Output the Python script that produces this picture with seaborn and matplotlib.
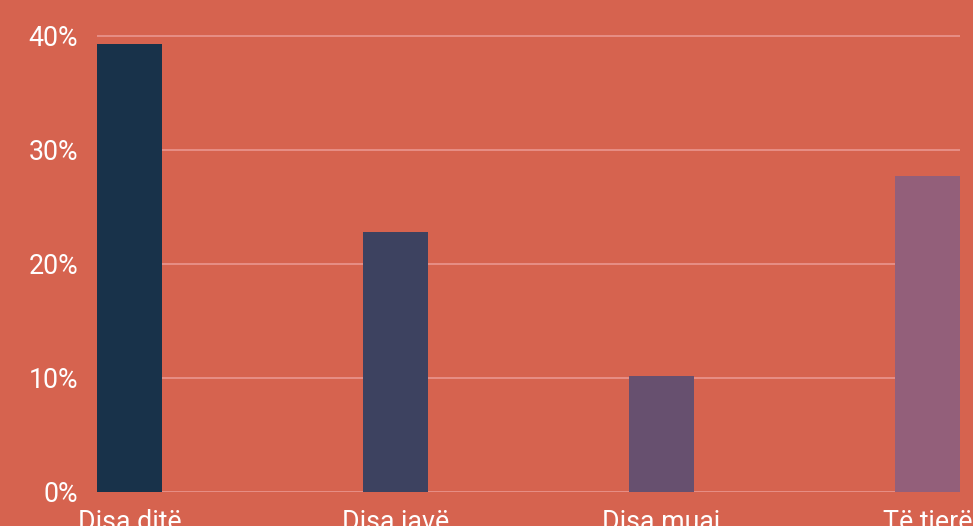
import pandas as pd
import matplotlib.pyplot as plt
import seaborn as sns

# Të dhënat
kategorite = ['Disa ditë', 'Disa javë', 'Disa muaj', 'Të tjerë']
perqindjet = [39.3, 22.8, 10.2, 27.7]
ngjyrat = ['#18324A', '#3D4260', '#67506F', '#935F7A']
yticks = [0, 10, 20, 30, 40]
ylabels = ['0%', '10%', '20%', '30%', '40%']

df = pd.DataFrame({'kategoria': kategorite, 'vlera': perqindjet})

sns.set_style('white')
plt.rcParams['font.family'] = ['Roboto', 'DejaVu Sans']

bg = '#D6634F'
fig = plt.figure(figsize=(9.73, 5.26), dpi=100, facecolor=bg)
# boshti: 0% në y=492px, 40% në y=36px
px_per = (492 - 36) / 40
top_val = 41
ax = fig.add_axes([97 / 973, 34 / 526, (960 - 97) / 973, top_val * px_per / 526])
ax.set_facecolor(bg)

w = 65 / 266
sns.barplot(data=df, x='kategoria', y='vlera', hue='kategoria', palette=ngjyrat,
            width=w, legend=False, ax=ax, zorder=3, saturation=1, linewidth=0)

ax.set_xlim(-w / 2, 3 + w / 2)
ax.set_ylim(0, top_val)
ax.set_yticks(yticks)
ax.set_yticklabels(ylabels)
ax.yaxis.grid(True, color='#E8928A', linewidth=1.3, zorder=0)
ax.set_axisbelow(True)
for s in ax.spines.values():
    s.set_visible(False)
ax.tick_params(axis='both', length=0, labelcolor='white', labelsize=19.3)
ax.tick_params(axis='y', pad=13.5)
ax.tick_params(axis='x', pad=12)
ax.set_xlabel('')
ax.set_ylabel('')

fig.savefig('out.png', dpi=100, facecolor=bg)
